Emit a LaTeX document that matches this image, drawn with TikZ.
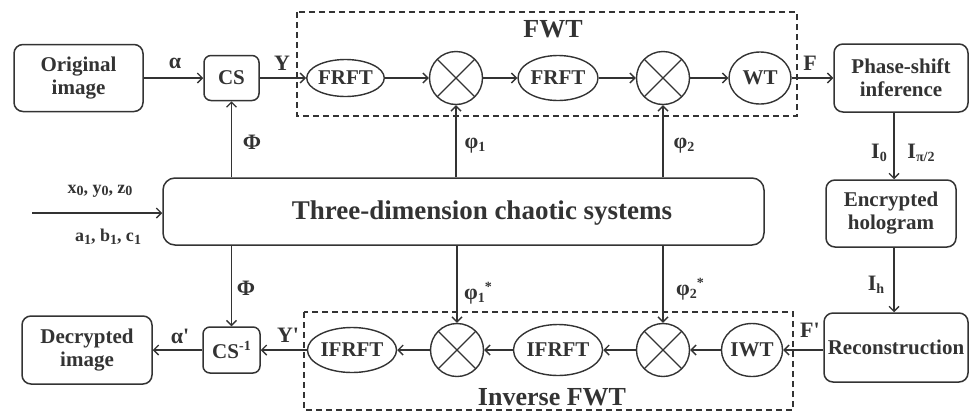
\documentclass[tikz,border=0pt]{standalone}
\usepackage{fontspec}
\setmainfont{Liberation Serif}
\usetikzlibrary{arrows.meta,shapes.geometric}
\definecolor{ink}{HTML}{333333}
\newcommand{\lo}[1]{\raisebox{-0.3ex}{\fontsize{14}{14}\selectfont #1}}
\newcommand{\hi}[1]{\raisebox{0.75ex}{\fontsize{14}{14}\selectfont #1}}
\newcommand{\pr}{\textquotesingle}
\begin{document}
\begin{tikzpicture}[x=1pt,y=-1pt,
  every node/.style={font=\fontsize{21}{23}\selectfont\bfseries, text=ink},
  box/.style={draw=ink, line width=1.5pt, rounded corners=9pt, align=center, inner sep=0pt},
  oval/.style={draw=ink, line width=1.4pt, ellipse, inner sep=0pt},
  mult/.style={draw=ink, line width=1.4pt, circle, minimum size=53pt, inner sep=0pt,
    path picture={\draw[ink, line width=1.3pt]
      (path picture bounding box.north west) -- (path picture bounding box.south east)
      (path picture bounding box.north east) -- (path picture bounding box.south west);}},
  arr/.style={draw=ink, line width=1.4pt, -{Straight Barb[length=5pt,width=10pt]}},
  frame/.style={draw=ink, line width=1.4pt, dash pattern=on 6pt off 4pt},
  lbl/.style={inner sep=0pt, font=\fontsize{22}{24}\selectfont\bfseries},
  big/.style={font=\fontsize{26}{28}\selectfont\bfseries},
]
\useasboundingbox (0,0) rectangle (972,413);

% frames
\draw[frame] (297,12) rectangle (797,116);
\draw[frame] (304,312) rectangle (793,410);
\node[big] (fwt) at (553,29) {FWT};
\node[big] (ifwt) at (552,397) {Inverse FWT};

% top row
\node[box, minimum width=129pt, minimum height=67pt] (orig) at (78.5,78) {Original\\image};
\node[box, minimum width=55pt, minimum height=45pt, rounded corners=7pt] (cs) at (231.5,78) {CS};
\node[oval, minimum width=71pt, minimum height=37pt] (f1) at (345.5,78) {FRFT};
\node[mult] (m1) at (456,78) {};
\node[oval, minimum width=80pt, minimum height=45pt] (f2) at (558,78) {FRFT};
\node[mult] (m2) at (663,78) {};
\node[oval, minimum width=62pt, minimum height=52pt] (wt) at (760,78) {WT};
\node[box, minimum width=134pt, minimum height=68pt] (ps) at (901,78) {Phase-shift\\inference};

% right column
\node[box, minimum width=130pt, minimum height=67pt] (enc) at (891,213.5) {Encrypted\\hologram};
\node[box, minimum width=144pt, minimum height=69pt] (rec) at (896,347.5) {Reconstruction};

% chaotic system
\node[box, minimum width=601pt, minimum height=67pt, rounded corners=12pt] (sys) at (463.5,211.5) {};
\node[font=\fontsize{27}{29}\selectfont\bfseries] (title) at (482,213) {Three-dimension chaotic systems};

% bottom row
\node[box, minimum width=130pt, minimum height=68pt] (dec) at (87,350) {Decrypted\\image};
\node[box, minimum width=57pt, minimum height=46pt, rounded corners=7pt] (csi) at (231.5,350) {CS\hi{-1}};
\node[oval, minimum width=80pt, minimum height=45pt] (if1) at (352,350) {IFRFT};
\node[mult] (m3) at (457,350) {};
\node[oval, minimum width=79pt, minimum height=51pt] (if2) at (558,350) {IFRFT};
\node[mult] (m4) at (663,350) {};
\node[oval, minimum width=58pt, minimum height=53pt] (iwt) at (752,350) {IWT};

% top arrows
\draw[arr] (orig) -- (cs);
\draw[arr] (cs) -- (f1);
\draw[arr] (f1) -- (m1);
\draw[arr] (m1) -- (f2);
\draw[arr] (f2) -- (m2);
\draw[arr] (m2) -- (wt);
\draw[arr] (wt) -- (ps);

% right column arrows
\coordinate (xr) at (894,0);
\draw[arr] (ps.south -| xr) -- (enc.north -| xr);
\draw[arr] (enc.south -| xr) -- (rec.north -| xr);
\draw[arr] (rec.west |- iwt) -- (iwt.east);

% bottom arrows
\draw[arr] (iwt) -- (m4);
\draw[arr] (m4) -- (if2);
\draw[arr] (if2) -- (m3);
\draw[arr] (m3) -- (if1);
\draw[arr] (if1) -- (csi);
\draw[arr] (csi) -- (dec);

% chaotic system arrows
\draw[arr] (sys.north -| cs) -- (cs.south);
\draw[arr] (sys.north -| m1) -- (m1.south);
\draw[arr] (sys.north -| m2) -- (m2.south);
\draw[arr] (sys.south -| csi) -- (csi.north);
\draw[arr] (sys.south -| m3) -- (m3.north);
\draw[arr] (sys.south -| m4) -- (m4.north);
\coordinate (in) at (32,213);
\draw[arr] (in) -- (in -| sys.west);

% labels
\node[lbl] (la) at (175,63) {α};
\node[lbl] (lY) at (282,63) {Y};
\node[lbl] (lF) at (810,63) {F};
\node[lbl] (lP1) at (252,142) {Φ};
\node[lbl] (lp1) at (475,146) {φ\lo{1}};
\node[lbl] (lp2) at (684,146) {φ\lo{2}};
\node[lbl] (lI0) at (879,153) {I\lo{0}};
\node[lbl] (lIp) at (921,153) {I\lo{π/2}};
\node[lbl] (lIh) at (876,285) {I\lo{h}};
\node[lbl] (lFp) at (810,330) {F\pr};
\node[lbl] (lp2s) at (690,289) {φ\lo{2}\hi{*}};
\node[lbl] (lp1s) at (478,293) {φ\lo{1}\hi{*}};
\node[lbl] (lP2) at (246,288) {Φ};
\node[lbl] (lYp) at (288,335) {Y\pr};
\node[lbl] (lap) at (180,336) {α\pr};
\node[lbl, font=\fontsize{18}{20}\selectfont\bfseries] (lx) at (100,191) {x\lo{0}, y\lo{0}, z\lo{0}};
\node[lbl, font=\fontsize{18}{20}\selectfont\bfseries] (lab) at (108,237) {a\lo{1}, b\lo{1}, c\lo{1}};
\end{tikzpicture}
\end{document}
